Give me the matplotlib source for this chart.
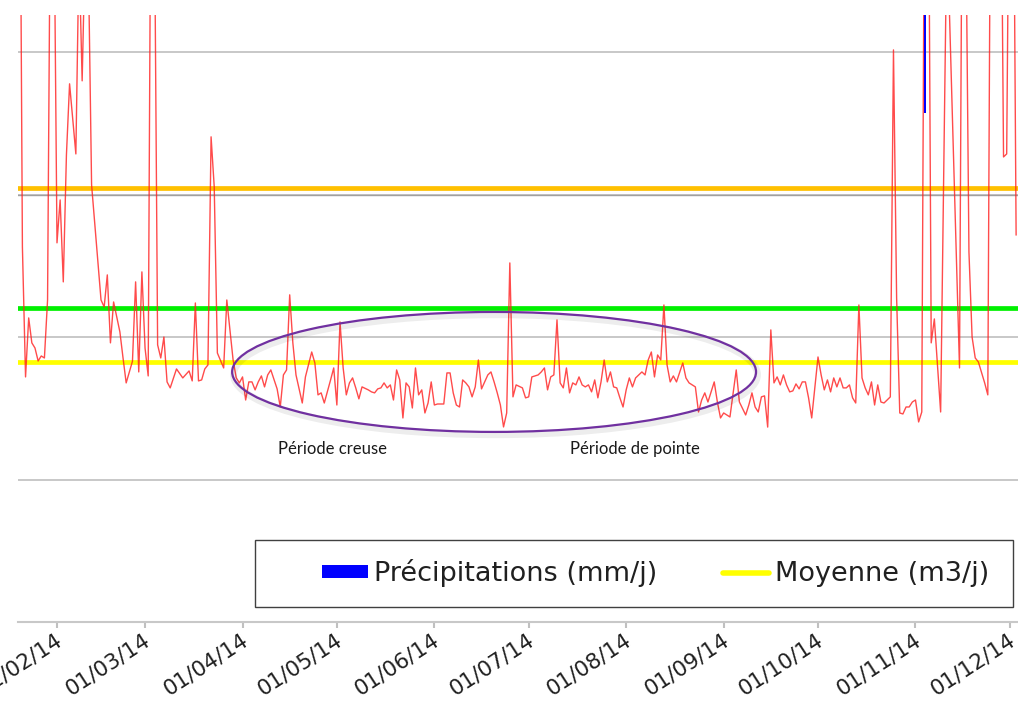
import numpy as np
import matplotlib
matplotlib.use('Agg')
import matplotlib.pyplot as plt
import matplotlib.dates as mdates
import matplotlib.patheffects as pe
import matplotlib.transforms as mtransforms
from matplotlib.patches import Ellipse, Rectangle, Patch
from matplotlib.lines import Line2D

debut = np.datetime64('2014-01-01')

# jours depuis le 01/01/14 et debit journalier (m3/j)
jours = [19, 20, 21, 22, 23, 24, 25, 26, 27, 28, 29, 30, 31, 32, 33, 34, 35, 37, 38, 39,
         40, 41, 42, 45, 46, 47, 48, 49, 51, 52, 53, 55, 56, 57, 58, 59, 60, 61, 62, 63,
         64, 65, 66, 67, 69, 71, 73, 74, 75, 76, 77, 78, 79, 80, 81, 82, 84, 85, 87, 88,
         89, 90, 91, 92, 93, 94, 95, 96, 97, 98, 99, 101, 102, 103, 104, 105, 106, 107, 109, 110,
         112, 113, 114, 115, 116, 118, 119, 120, 121, 122, 123, 124, 125, 126, 127, 128, 130, 131, 132, 133,
         134, 135, 136, 137, 138, 139, 140, 141, 142, 143, 144, 145, 146, 147, 148, 149, 150, 151, 152, 154,
         155, 156, 157, 158, 159, 160, 161, 162, 163, 164, 165, 166, 167, 168, 169, 170, 171, 172, 173, 174,
         175, 176, 177, 179, 180, 181, 182, 184, 185, 186, 187, 188, 189, 190, 191, 192, 193, 194, 195, 196,
         197, 198, 199, 200, 201, 202, 203, 204, 205, 206, 207, 208, 209, 210, 211, 212, 213, 214, 215, 216,
         217, 218, 219, 220, 221, 222, 223, 224, 225, 226, 227, 228, 230, 231, 232, 234, 235, 236, 237, 238,
         240, 241, 242, 243, 245, 247, 248, 250, 251, 252, 253, 254, 255, 256, 257, 258, 259, 260, 261, 262,
         263, 264, 265, 266, 267, 268, 269, 270, 271, 273, 274, 275, 276, 277, 278, 279, 280, 281, 282, 283,
         284, 285, 286, 287, 288, 289, 290, 291, 292, 293, 294, 296, 297, 298, 299, 300, 301, 302, 303, 304,
         305, 306, 307, 308, 309, 310, 312, 314, 318, 319, 320, 321, 322, 323, 324, 326, 327, 328, 331, 332,
         333, 334, 335, 336]
debit = [6500, 2633, 1720, 2134, 1959, 1923, 1832, 1867, 1853, 2260, 5500, 5200, 2661, 2962, 2387, 3278, 3777, 3285, 4700, 3798,
         4800, 4600, 3068, 2260, 2211, 2436, 1959, 2246, 2036, 1853, 1678, 1830, 2387, 1755, 2457, 1923, 1727, 6000, 5000, 1945,
         1853, 2000, 1685, 1643, 1776, 1713, 1762, 1692, 2239, 1692, 1699, 1776, 1804, 3405, 3054, 1888, 1783, 2260, 1839, 1713,
         1678, 1720, 1558, 1685, 1685, 1629, 1685, 1727, 1650, 1734, 1769, 1636, 1509, 1734, 1769, 2296, 1959, 1734, 1537, 1720,
         1895, 1818, 1594, 1608, 1537, 1699, 1783, 1523, 2106, 1783, 1594, 1678, 1713, 1643, 1566, 1650, 1629, 1615, 1608, 1636,
         1643, 1678, 1643, 1664, 1558, 1769, 1699, 1432, 1678, 1650, 1502, 1783, 1594, 1629, 1467, 1537, 1685, 1523, 1530, 1530,
         1748, 1748, 1608, 1523, 1509, 1699, 1678, 1650, 1580, 1650, 1839, 1636, 1685, 1734, 1755, 1685, 1608, 1523, 1369, 1467,
         2520, 1580, 1664, 1643, 1573, 1580, 1720, 1734, 1755, 1783, 1629, 1720, 1734, 2120, 1678, 1643, 1783, 1608, 1678, 1664,
         1720, 1664, 1650, 1664, 1615, 1699, 1573, 1685, 1839, 1685, 1755, 1650, 1643, 1573, 1509, 1629, 1713, 1650, 1713, 1734,
         1755, 1734, 1839, 1895, 1720, 1874, 1839, 2225, 1804, 1685, 1727, 1685, 1818, 1713, 1678, 1650, 1474, 1558, 1608, 1544,
         1685, 1544, 1432, 1467, 1439, 1769, 1544, 1453, 1523, 1608, 1509, 1474, 1580, 1587, 1368, 2050, 1678, 1720, 1664, 1734,
         1664, 1615, 1622, 1671, 1636, 1685, 1685, 1573, 1432, 1860, 1734, 1629, 1699, 1615, 1713, 1650, 1713, 1643, 1643, 1664,
         1573, 1537, 2225, 1713, 1643, 1594, 1685, 1523, 1664, 1544, 1537, 1580, 4015, 2275, 1467, 1460, 1509, 1509, 1544, 1558,
         1404, 1474, 6000, 6000, 1959, 2127, 1474, 4900, 1783, 6000, 5000, 2597, 2000, 1853, 1825, 1678, 1594, 6000, 6000, 3264,
         3285, 6000, 6000, 2717]

# lignes horizontales (m3/j)
seuil_orange = 3046
seuil_vert = 2204
moyenne = 1825
ligne_grise = 3000

# precipitations (mm/j)
pluie_jours = [307]
pluie = [9.7]

mois = ['2014-02-01', '2014-03-01', '2014-04-01', '2014-05-01', '2014-06-01', '2014-07-01',
        '2014-08-01', '2014-09-01', '2014-10-01', '2014-11-01', '2014-12-01']

dates = debut + np.array(jours).astype('timedelta64[D]')
t0 = mdates.date2num(debut)

fig = plt.figure(figsize=(10.18, 7.06), dpi=100)
ax = fig.add_axes([18/1018, 84/706, 1000/1018, 607/706])

ax.set_yticks([1000, 2000, 3000, 4000])
ax.yaxis.grid(True, color='#C8C8C8', lw=1.4)
ax.set_axisbelow(True)
ax.axhline(ligne_grise, color='#A0A0A0', lw=1.0, zorder=1)

ax.axhline(seuil_orange, color='#FFC000', lw=3.4, zorder=2)
ax.axhline(seuil_vert, color='#00F000', lw=3.4, zorder=2)
ax.axhline(moyenne, color='#FFFF00', lw=3.4, zorder=2)

ax.plot(dates, debit, color='#FF1E1E', lw=1.0, alpha=0.8, zorder=3)

ax.set_ylim(0, 4260)
ax.set_xlim(t0 + 18.6, t0 + 336.6)

# ellipse et annotations
ell = Ellipse((t0 + 170, 1755), width=166.6, height=842, fill=False,
              edgecolor='#7030A0', lw=1.6, zorder=5)
ell.set_path_effects([pe.SimpleLineShadow(offset=(1, -2), shadow_color='k', alpha=0.07, linewidth=5),
                      pe.Normal()])
ax.add_patch(ell)
ax.text(t0 + 101.3, 1214, 'Période creuse', fontsize=12, family='Lato', color='#1a1a1a', va='center')
ax.text(t0 + 194.1, 1214, 'Période de pointe', fontsize=12, family='Lato', color='#1a1a1a', va='center')

# precipitations sur un axe inverse
ax2 = ax.twinx()
ax2.bar(debut + np.array(pluie_jours).astype('timedelta64[D]'), pluie, width=0.8,
        color='#0000FF', zorder=6)
ax2.set_ylim(60, 0)
ax2.set_xlim(t0 + 18.6, t0 + 336.6)
ax2.axis('off')

for s in ['left', 'right', 'top']:
    ax.spines[s].set_visible(False)
ax.spines['bottom'].set_color('#C8C8C8')
ax.spines['bottom'].set_linewidth(1.5)
ax.tick_params(axis='y', left=False, right=False, labelleft=False, labelright=False)
ax.set_xticks(np.array(mois, dtype='datetime64[D]'))
ax.xaxis.set_major_formatter(mdates.DateFormatter('%d/%m/%y'))
ax.tick_params(axis='x', length=4, width=1.5, color='#C0C0C0', pad=1.5,
               labelsize=15.5, labelcolor='#202020')
decal = mtransforms.ScaledTranslation(-2/100, 0, fig.dpi_scale_trans)
for lab in ax.get_xticklabels():
    lab.set_rotation(33)
    lab.set_ha('right')
    lab.set_va('top')
    lab.set_rotation_mode('anchor')
    lab.set_transform(lab.get_transform() + decal)

# legende
fig.add_artist(Rectangle((255/1018, 99/706), 758/1018, 67/706, transform=fig.transFigure,
                         fill=False, edgecolor='#404040', lw=1.0))
handles = [Patch(facecolor='#0000FF', edgecolor='none'),
           Line2D([], [], color='#FFFF00', lw=4, solid_capstyle='round')]
fig.legend(handles, ['Précipitations (mm/j)', 'Moyenne (m3/j)'], loc='center',
           bbox_to_anchor=(655.5/1018, 133/706), ncol=2, frameon=False, fontsize=19.5,
           handlelength=1.70, handleheight=0.37, handletextpad=0.22, columnspacing=2.44,
           labelcolor='#202020')

fig.savefig('out.png', dpi=100)
